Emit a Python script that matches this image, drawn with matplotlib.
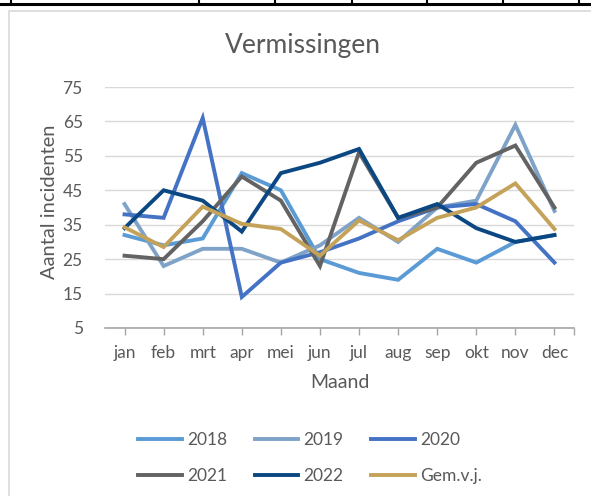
import matplotlib
matplotlib.use("Agg")
import matplotlib.pyplot as plt
from matplotlib.lines import Line2D
from matplotlib.patches import Rectangle

months = ["jan", "feb", "mrt", "apr", "mei", "jun", "jul", "aug", "sep", "okt", "nov", "dec"]
y2018 = [32, 29, 31, 50, 45, 25, 21, 19, 28, 24, 30, 32]
y2019 = [41, 23, 28, 28, 24, 29, 37, 30, 40, 42, 64, 39]
y2020 = [38, 37, 66, 14, 24, 27, 31, 36, 40, 41, 36, 24]
y2021 = [26, 25, 36, 49, 42, 23, 56, 37, 40, 53, 58, 40]
y2022 = [34, 45, 42, 33, 50, 53, 57, 37, 41, 34, 30, 32]
gem = [34.25, 28.5, 40.25, 35.25, 33.75, 26, 36.25, 30.5, 37, 40, 47, 33.75]
yticks = [5, 15, 25, 35, 45, 55, 65, 75]

series = [
    ("2018", y2018, "#5B9BD5"),
    ("2019", y2019, "#7FA3C8"),
    ("2020", y2020, "#4472C4"),
    ("2021", y2021, "#636363"),
    ("2022", y2022, "#0B4782"),
    ("Gem.v.j.", gem, "#C5A25A"),
]

plt.rcParams['font.family'] = ['Lato', 'DejaVu Sans']
W, H = 591, 496
fig = plt.figure(figsize=(W / 100, H / 100), dpi=100)

# chart box border
fig.patches.append(Rectangle((9 / W, -0.1), 1.2, (1 - 11 / H) + 0.1, transform=fig.transFigure,
                             facecolor="white", edgecolor="#D9D9D9", linewidth=1.2, zorder=-5))
# table lines at top
fig.add_artist(Line2D([0, 1], [1 - 4 / H, 1 - 4 / H], transform=fig.transFigure, color="black", lw=2.2))
for xv in [10.5, 199, 275, 352, 427, 503, 579]:
    fig.add_artist(Line2D([xv / W, xv / W], [1 - 4 / H, 1], transform=fig.transFigure, color="black", lw=1.5))

ax = fig.add_axes([105 / W, 1 - 328 / H, (574 - 105) / W, (328 - 87) / H])
ax.set_zorder(2)
ax.set_facecolor("none")
x = list(range(len(months)))
for name, vals, col in series:
    ax.plot(x, vals, color=col, lw=2.8, label=name, solid_joinstyle="miter", zorder=3)

ax.set_xlim(-0.5, 11.5)
ax.set_ylim(5, 75)
ax.set_yticks(yticks)
ax.set_xticks(x)
ax.set_xticks([11.5], minor=True)
ax.set_xticklabels(months)
ax.grid(axis="y", color="#D9D9D9", lw=1)
ax.set_axisbelow(True)
for s in ["top", "right", "left"]:
    ax.spines[s].set_visible(False)
ax.spines["bottom"].set_color("#A6A6A6")
ax.spines["bottom"].set_linewidth(1.2)
ax.tick_params(axis="y", length=0, pad=16, labelsize=12.5, labelcolor="#595959")
ax.tick_params(axis="x", which="both", length=5, color="#A6A6A6", width=1, pad=7,
               labelsize=12.5, labelcolor="#595959")

fig.text(303 / W, 1 - 46 / H, "Vermissingen", fontsize=19, color="#595959", ha="center", va="center")
fig.text(340 / W, 1 - 383 / H, "Maand", fontsize=14, color="#595959", ha="center", va="center")
fig.text(50 / W, 1 - 202 / H, "Aantal incidenten", fontsize=14.5, color="#595959",
         ha="center", va="center", rotation=90)

order = [0, 3, 1, 4, 2, 5]
handles = [Line2D([], [], color=series[i][2], lw=2.8) for i in order]
labels = [series[i][0] for i in order]
leg = fig.legend(handles, labels, ncol=3, loc="center", bbox_to_anchor=(310 / W, 1 - 458 / H),
                 frameon=False, fontsize=12.5, handlelength=2.5, handletextpad=0.3,
                 columnspacing=1.6, labelspacing=1.2)
leg.set_zorder(3)
for t in leg.get_texts():
    t.set_color("#595959")

fig.savefig("out.png", dpi=100)
